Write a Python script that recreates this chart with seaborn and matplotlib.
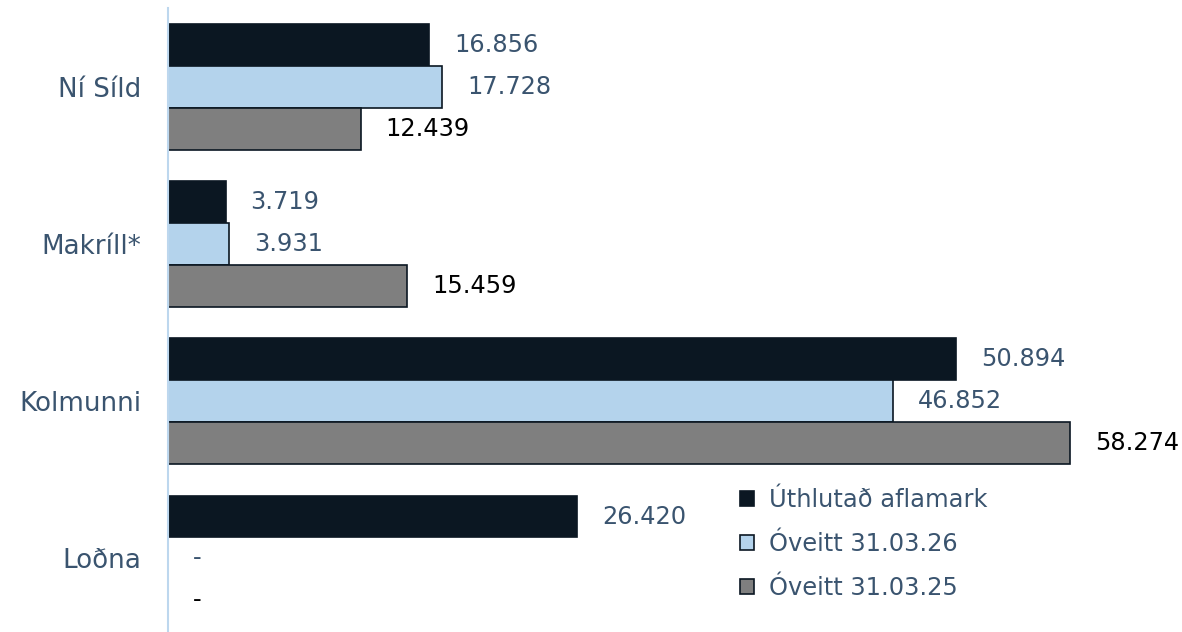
import matplotlib
matplotlib.use("Agg")
import matplotlib.pyplot as plt
import seaborn as sns
import pandas as pd
from matplotlib.patches import Patch

categories = ["Ní Síld", "Makríll*", "Kolmunni", "Loðna"]
series = ["Úthlutað aflamark", "Óveitt 31.03.26", "Óveitt 31.03.25"]
vals_uthlutad = [16.856, 3.719, 50.894, 26.420]
vals_2026 = [17.728, 3.931, 46.852, 0.0]
vals_2025 = [12.439, 15.459, 58.274, 0.0]
labels_uthlutad = ["16.856", "3.719", "50.894", "26.420"]
labels_2026 = ["17.728", "3.931", "46.852", "-"]
labels_2025 = ["12.439", "15.459", "58.274", "-"]

colors = ["#0B1722", "#B4D3EC", "#7F7F7F"]
label_colors = ["#3A546F", "#3A546F", "#000000"]
slate = "#3A546F"

rows = []
for s, vals in zip(series, [vals_uthlutad, vals_2026, vals_2025]):
    for c, v in zip(categories, vals):
        rows.append({"cat": c, "series": s, "value": v})
df = pd.DataFrame(rows)

sns.set_theme(style="white")
plt.rcParams["font.family"] = ["DejaVu Sans"]

fig = plt.figure(figsize=(11.82, 6.32), dpi=100)
ax = fig.add_axes([168 / 1182, -0.008, 1 - 168 / 1182, 0.995])

sns.barplot(data=df, y="cat", x="value", hue="series", order=categories,
            hue_order=series, palette=colors, orient="h", ax=ax,
            edgecolor="#0B1722", linewidth=1.2, width=0.8, legend=False,
            errorbar=None, saturation=1)

all_labels = [labels_uthlutad, labels_2026, labels_2025]
for cont, labs, lc in zip(ax.containers, all_labels, label_colors):
    ax.bar_label(cont, labels=labs, padding=18, fontsize=17.3, color=lc)

ax.set_xlim(0, 65.5)
ax.set_ylim(3.5, -0.5)
ax.set_xlabel("")
ax.set_ylabel("")
ax.set_xticks([])
ax.tick_params(axis="y", length=0, pad=19, labelsize=18.8, labelcolor=slate)
for sp in ["top", "right", "bottom"]:
    ax.spines[sp].set_visible(False)
ax.spines["left"].set_color("#BDD7EE")
ax.spines["left"].set_linewidth(1.5)

handles = [Patch(facecolor=c, edgecolor="#0B1722", linewidth=1.2) for c in colors]
leg = fig.legend(handles, series, loc="upper left",
                 bbox_to_anchor=(718 / 1182, 1 - 466 / 632),
                 frameon=False, fontsize=17.4, handlelength=0.58,
                 handleheight=0.58, handletextpad=0.62, labelspacing=0.84)
for t in leg.get_texts():
    t.set_color(slate)

fig.savefig("out.png", dpi=100)
